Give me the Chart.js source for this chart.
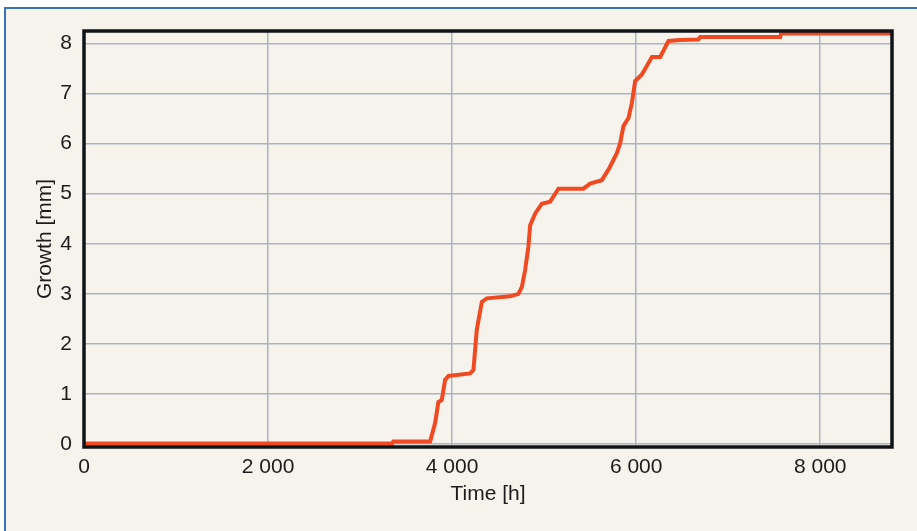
<!DOCTYPE html>
<html>
<head>
<meta charset="utf-8">
<script src="https://cdn.jsdelivr.net/npm/chart.js@4/dist/chart.umd.min.js"></script>
<style>
  html, body { margin: 0; padding: 0; background: #ffffff; overflow: hidden; }
  #frame { position: absolute; left: 4px; top: 7px; width: 940px; height: 560px;
           border-left: 2px solid #3a74b8; border-top: 2px solid #3a74b8; background: #f6f2ec; }
  #wrap { position: absolute; left: 0; top: 0; width: 917px; height: 531px; }
</style>
</head>
<body>
<div id="frame"></div>
<div id="wrap"><canvas id="c" width="917" height="531"></canvas></div>
<script>
const timeHours = [0, 3350, 3360, 3761, 3815, 3851, 3888, 3924, 3960, 4196, 4232, 4268, 4323, 4377, 4630, 4721, 4758, 4793, 4829, 4848, 4902, 4975, 5065, 5156, 5427, 5500, 5627, 5705, 5790, 5826, 5862, 5916, 5953, 5989, 6062, 6134, 6171, 6261, 6351, 6478, 6677, 6696, 7565, 7575, 8780];
const growthMm  = [0.01, 0.01, 0.05, 0.05, 0.42, 0.84, 0.88, 1.28, 1.36, 1.41, 1.48, 2.28, 2.84, 2.91, 2.95, 3.0, 3.14, 3.47, 3.94, 4.37, 4.6, 4.8, 4.84, 5.1, 5.1, 5.2, 5.27, 5.5, 5.81, 6.01, 6.35, 6.51, 6.81, 7.25, 7.38, 7.61, 7.73, 7.73, 8.05, 8.07, 8.08, 8.13, 8.13, 8.2, 8.2];
const xTickValues = [0, 2000, 4000, 6000, 8000];
const yTickValues = [0, 1, 2, 3, 4, 5, 6, 7, 8];
const xTitle = 'Time [h]';
const yTitle = 'Growth [mm]';

const points = timeHours.map((t, i) => ({ x: t, y: growthMm[i] }));

const borderPlugin = {
  id: 'plotBorder',
  afterDraw(chart) {
    const a = chart.chartArea, ctx = chart.ctx;
    ctx.save();
    ctx.strokeStyle = '#111417';
    ctx.lineWidth = 3.5;
    ctx.strokeRect(a.left, a.top, a.right - a.left, a.bottom - a.top);
    ctx.restore();
  }
};

const fmt = v => String(v).replace(/\B(?=(\d{3})+(?!\d))/g, ' ');
const font = { family: 'Liberation Sans', size: 21 };

new Chart(document.getElementById('c'), {
  type: 'scatter',
  data: {
    datasets: [{
      data: points,
      showLine: true,
      borderColor: '#f04a22',
      borderWidth: 4,
      pointRadius: 0,
      tension: 0,
      fill: false
    }]
  },
  options: {
    responsive: false,
    animation: false,
    events: [],
    layout: { padding: { left: 33, right: 25, top: 31, bottom: 20 } },
    plugins: { legend: { display: false }, tooltip: { enabled: false } },
    scales: {
      x: {
        type: 'linear', min: 0, max: 8780,
        afterBuildTicks: s => { s.ticks = xTickValues.map(v => ({ value: v })); },
        afterFit: s => { s.height = 64; },
        grid: { color: '#a9b5c2', lineWidth: 1.5, drawTicks: false },
        border: { display: false },
        ticks: { color: '#1c1c1c', font, padding: 8, maxRotation: 0,
                 callback: v => fmt(v) },
        title: { display: true, text: xTitle, color: '#1c1c1c', font, padding: { top: 2, bottom: 4 } }
      },
      y: {
        type: 'linear', min: -0.06, max: 8.25,
        afterBuildTicks: s => { s.ticks = yTickValues.map(v => ({ value: v })); },
        afterFit: s => { s.width = 51; },
        grid: { color: '#a9b5c2', lineWidth: 1.5, drawTicks: false },
        border: { display: false },
        ticks: { color: '#1c1c1c', font, padding: 12 },
        title: { display: true, text: yTitle, color: '#1c1c1c', font, padding: { top: 0, bottom: 0 } }
      }
    }
  },
  plugins: [borderPlugin]
});
</script>
</body>
</html>
